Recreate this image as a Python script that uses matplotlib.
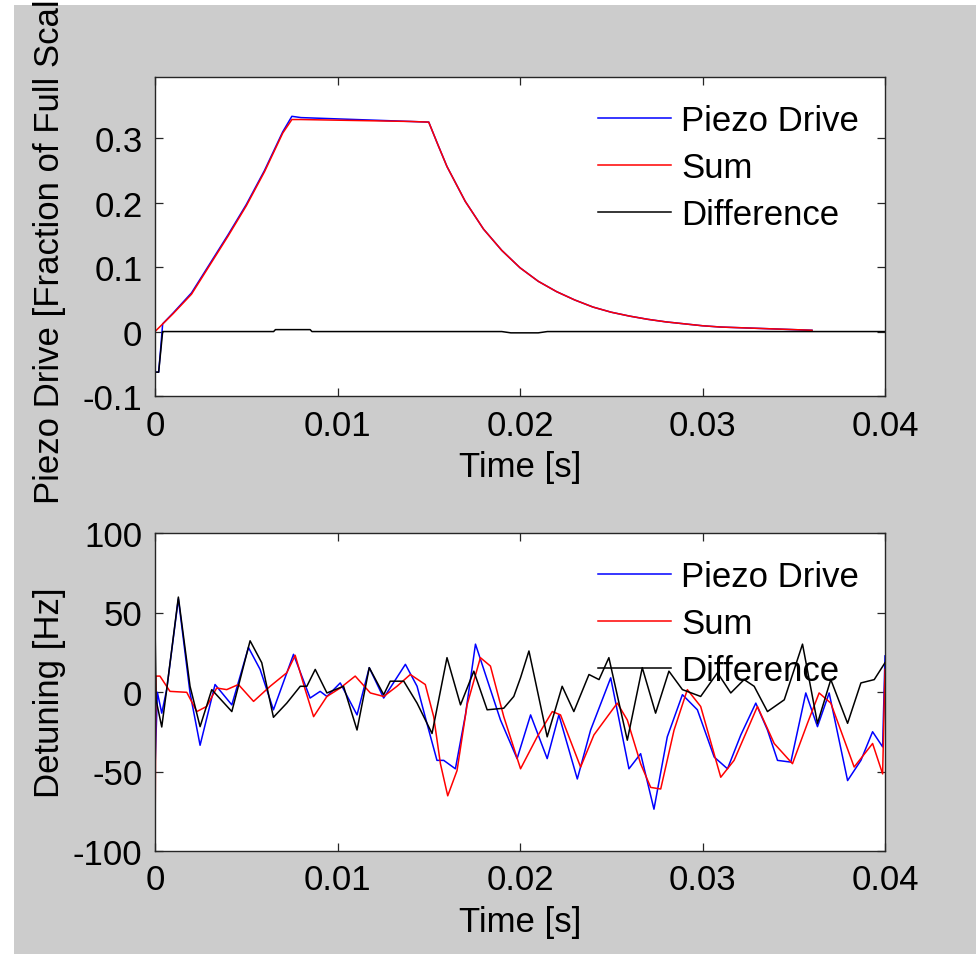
import matplotlib
matplotlib.use('Agg')
import matplotlib.pyplot as plt
from matplotlib.patches import Rectangle

plt.rcParams['font.family'] = ['Liberation Sans', 'DejaVu Sans']
plt.rcParams['axes.unicode_minus'] = False

# 上段: Piezo drive (fraction of full scale), 時間は ms で読み取り
t_drive_ms = [0, 0.2, 0.3, 0.42, 1, 2, 3, 4, 5, 6, 7, 7.5, 8, 9, 10, 11, 12, 13, 14, 15,
              15.5, 16, 17, 18, 19, 20, 21, 22, 23, 24, 25, 26, 27, 28, 29, 30, 31, 32,
              33, 34, 35, 36]
piezo_drive = [-0.063, -0.063, -0.03, 0.012, 0.029, 0.06, 0.105, 0.15, 0.197, 0.25, 0.31,
               0.334, 0.332, 0.331, 0.33, 0.329, 0.328, 0.327, 0.326, 0.325,
               0.29, 0.256, 0.202, 0.159, 0.126, 0.099, 0.078, 0.062, 0.049, 0.038,
               0.030, 0.024, 0.019, 0.015, 0.012, 0.009, 0.007, 0.006, 0.005, 0.004,
               0.003, 0.002]

t_sum_ms = [0, 1, 2, 3, 4, 5, 6, 7, 7.5, 8, 10, 12, 14, 15, 15.5, 16, 17, 18, 19, 20,
            21, 22, 23, 24, 25, 26, 27, 28, 29, 30, 31, 32, 33, 34, 35, 36]
drive_sum = [0, 0.028, 0.058, 0.103, 0.148, 0.195, 0.248, 0.308, 0.329, 0.329, 0.328,
             0.327, 0.326, 0.325, 0.29, 0.256, 0.202, 0.159, 0.126, 0.099, 0.078, 0.062,
             0.049, 0.038, 0.030, 0.024, 0.019, 0.015, 0.012, 0.009, 0.007, 0.006,
             0.005, 0.004, 0.003, 0.002]

t_diff_ms = [0, 0.2, 0.42, 6.5, 6.6, 8.5, 8.6, 19, 19.5, 21, 21.5, 40]
drive_diff = [-0.063, -0.063, 0, 0, 0.003, 0.003, 0, 0, -0.002, -0.002, 0, 0]

# 下段: Detuning [Hz]
t_det_piezo_ms = [0, 0.13, 0.37, 0.64, 1.28, 1.92, 2.47, 3.29, 4.21, 5.12, 5.76, 6.49,
                  7.59, 8.50, 9.05, 9.42, 10.15, 11.07, 11.74, 12.53, 13.72, 14.36,
                  14.90, 15.45, 15.82, 16.46, 17.01, 17.56, 18.20, 18.93, 19.84, 20.58,
                  21.49, 22.13, 23.14, 23.87, 24.97, 25.97, 26.61, 27.34, 28.07, 28.90,
                  29.72, 30.64, 31.37, 32.10, 32.92, 33.56, 34.11, 34.84, 35.66, 36.30,
                  36.94, 37.95, 38.68, 39.32, 39.87, 40.0]
det_piezo = [-48.3, -0.2, -13.3, 1.5, 58.6, -0.6, -33.5, 4.7, -8.1, 28.0, 14.2, -11.2,
             23.7, -3.8, 0.4, -2.8, 5.7, -14.4, 15.3, -3.8, 17.4, 3.6,
             -19.7, -43.0, -43.0, -48.3, -14.4, 30.1, 7.8, -17.6, -41.9, -14.4,
             -41.9, -14.4, -54.7, -23.9, 8.9, -48.3, -38.8, -73.7, -28.2, -1.7,
             -11.2, -40.9, -48.3, -27.0, -7.0, -23.9, -43.0, -44.1, -0.6, -21.8,
             -0.6, -55.7, -43.0, -25.0, -34.5, 22.7]

t_det_sum_ms = [0, 0.05, 0.27, 0.82, 1.74, 2.29, 2.83, 3.38, 3.93, 4.57, 5.40, 6.31,
                7.22, 7.68, 8.23, 8.69, 9.42, 10.15, 10.97, 11.80, 12.53, 13.26, 13.99,
                14.81, 15.27, 15.64, 16.04, 16.55, 17.10, 17.83, 18.38, 19.11, 20.03,
                20.94, 21.77, 22.22, 23.32, 24.05, 25.33, 25.88, 26.61, 27.16, 27.71,
                28.44, 29.17, 29.90, 31.00, 31.73, 33.01, 33.93, 34.93, 35.75, 36.39,
                37.03, 38.31, 39.32, 39.87, 40.0]
det_sum = [-100, 10.0, 10.0, 0.4, -0.2, -12.3, -9.1, 2.5, 1.5, 4.7, -5.9, 3.6,
           12.1, 23.1, 1.5, -15.5, -2.8, 2.5, 10.0, -0.6, -2.8, 3.6, 11.0,
           4.7, -15.5, -45.1, -65.3, -49.4, -8.1, 21.6, 16.3, -15.5, -48.3,
           -28.2, -12.3, -14.4, -47.2, -27.0, -7.0, -17.6, -45.1, -60.0, -61.0,
           -24.0, 1.5, -9.1, -53.6, -43.0, -9.1, -32.4, -45.1, -19.7, -0.6,
           -7.0, -47.2, -32.4, -51.5, 14.2]

t_det_diff_ms = [0, 0.06, 0.37, 0.64, 1.28, 1.92, 2.47, 3.11, 4.21, 5.21, 5.85, 6.49,
                 7.22, 7.96, 8.32, 8.78, 9.42, 10.33, 11.07, 11.74, 12.53, 12.89, 13.63,
                 14.36, 15.18, 16.00, 16.74, 17.47, 18.20, 19.11, 19.66, 20.03, 20.49,
                 21.49, 22.31, 22.95, 23.78, 24.33, 24.87, 25.88, 26.70, 27.43, 28.16,
                 28.90, 29.90, 30.82, 31.55, 32.28, 32.83, 33.56, 34.48, 35.48, 36.30,
                 37.03, 37.95, 38.68, 39.41, 40.0]
det_diff = [44.0, -5.0, -22.0, 1.5, 59.7, 3.6, -21.8, 1.5, -12.3, 32.2, 18.4, -15.9,
            -7.0, 3.6, 3.6, 14.2, -0.6, 3.6, -23.9, 15.3, -1.7, 6.8, 6.8,
            -7.0, -26.1, 21.6, -8.1, 13.1, -11.2, -10.2, -2.8, 9.0, 25.8,
            -28.2, 3.6, -12.3, 11.0, 7.8, 21.6, -30.3, 15.3, -13.3, 13.1,
            1.5, -2.8, 12.1, -0.6, 7.8, 3.6, -12.3, -4.9, 30.1, -19.7,
            7.8, -19.7, 5.7, 7.8, 18.4]

series_labels = ['Piezo Drive', 'Sum', 'Difference']
series_colors = ['#0000ff', '#ff0000', '#000000']


def sec(ms_list):
    return [v / 1000.0 for v in ms_list]


fig = plt.figure(figsize=(9.76, 9.62), dpi=100, facecolor='white')
fig.patches.append(Rectangle((14 / 976, 7 / 962), 962 / 976, 949 / 962,
                             transform=fig.transFigure, facecolor='#cccccc',
                             edgecolor='none', zorder=-10))

ax1 = fig.add_axes([155 / 976, 565 / 962, 730 / 976, 319 / 962])
ax2 = fig.add_axes([155 / 976, 110 / 962, 730 / 976, 318 / 962])

top_data = [(t_drive_ms, piezo_drive), (t_sum_ms, drive_sum), (t_diff_ms, drive_diff)]
bot_data = [(t_det_piezo_ms, det_piezo), (t_det_sum_ms, det_sum), (t_det_diff_ms, det_diff)]

for ax, data in [(ax1, top_data), (ax2, bot_data)]:
    for (tt, vv), lab, col in zip(data, series_labels, series_colors):
        ax.plot(sec(tt), vv, color=col, lw=1.1, label=lab)
    ax.set_xlim(0, 0.04)
    ax.set_xticks([0, 0.01, 0.02, 0.03, 0.04])
    ax.set_xticklabels(['0', '0.01', '0.02', '0.03', '0.04'])
    ax.tick_params(direction='in', length=6, width=0.9, top=True, right=True,
                   labelsize=25, pad=9, colors='#262626', labelcolor='black')
    for sp in ax.spines.values():
        sp.set_linewidth(1.0)
        sp.set_color('#262626')
    ax.set_xlabel('Time [s]', fontsize=25, labelpad=6)
    ax.yaxis.set_label_coords(-0.122, 0.5)
    leg = ax.legend(loc='upper left', bbox_to_anchor=(0.607, 0.915), frameon=False,
                    fontsize=25, handlelength=2.1, handletextpad=0.3,
                    labelspacing=0.4, borderpad=0, borderaxespad=0)

ax1.set_ylim(-0.1, 0.395)
ax1.set_yticks([-0.1, 0, 0.1, 0.2, 0.3])
ax1.set_yticklabels(['-0.1', '0', '0.1', '0.2', '0.3'])
ax1.set_ylabel('Piezo Drive [Fraction of Full Scale]', fontsize=25)

ax2.set_ylim(-100, 100)
ax2.set_yticks([-100, -50, 0, 50, 100])
ax2.set_ylabel('Detuning [Hz]', fontsize=25)

fig.savefig('out.png', dpi=100, facecolor='white')
